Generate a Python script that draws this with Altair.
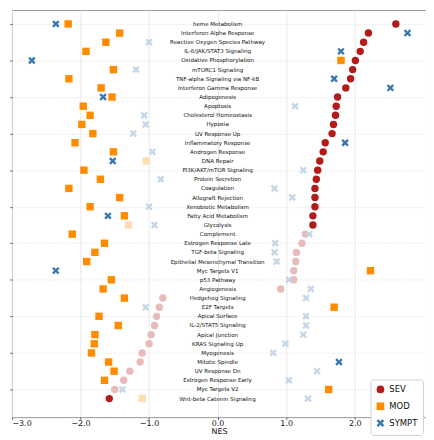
import altair as alt
import pandas as pd

pathways = [
    "heme Metabolism", "Interferon Alpha Response", "Reactive Oxygen Species Pathway",
    "IL-6/JAK/STAT3 Signaling", "Oxidative Phosphorylation", "mTORC1 Signaling",
    "TNF-alpha Signaling via NF-kB", "Interferon Gamma Response", "Adipogenesis",
    "Apoptosis", "Cholesterol Homeostasis", "Hypoxia", "UV Response Up",
    "Inflammatory Response", "Androgen Response", "DNA Repair",
    "PI3K/AKT/mTOR  Signaling", "Protein Secretion", "Coagulation",
    "Allograft Rejection", "Xenobiotic Metabolism", "Fatty Acid Metabolism",
    "Glycolysis", "Complement", "Estrogen Response Late", "TGF-beta Signaling",
    "Epithelial Mesenchymal Transition", "Myc Targets V1", "p53 Pathway",
    "Angiogenesis", "Hedgehog Signaling", "E2F Targets", "Apical Surface",
    "IL-2/STAT5 Signaling", "Apical Junction", "KRAS Signaling Up", "Myogenesis",
    "Mitotic Spindle", "UV Response Dn", "Estrogen Response Early",
    "Myc Targets V2", "Wnt-beta Catenin Signaling",
]

sev_nes = [2.60, 2.20, 2.13, 2.08, 2.01, 1.97, 1.94, 1.87, 1.75, 1.73, 1.72, 1.69,
           1.67, 1.57, 1.54, 1.49, 1.46, 1.44, 1.42, 1.42, 1.42, 1.39, 1.39, 1.28,
           1.23, 1.15, 1.14, 1.11, 1.11, 0.92, -0.80, -0.85, -0.89, -0.92, -0.97,
           -1.00, -1.10, -1.13, -1.28, -1.37, -1.50, -1.58]
sev_sig = [True] * 23 + [False] * 18 + [True]

mod_nes = [-2.18, -1.43, -1.63, -1.92, 1.80, -1.52, -2.17, -1.70, -1.54, -1.96,
           -1.86, -1.98, -1.82, -2.08, -1.52, -1.04, -1.95, -1.71, -2.17, -1.43,
           -1.86, -1.36, -1.30, -2.12, -1.65, -1.79, -1.91, 2.23, -1.55, -1.67,
           -1.36, 1.70, -1.73, -1.45, -1.79, -1.80, -1.84, -1.59, -1.51, -1.65,
           1.62, -1.10]
mod_sig = [True] * 42
for i in (15, 22, 41):
    mod_sig[i] = False

sympt_nes = [-2.36, 2.77, -1.00, 1.80, -2.71, -1.19, 1.70, 2.52, -1.67, 1.13,
             -1.07, -1.05, -1.23, 1.86, -0.95, -1.53, 1.25, -0.83, 0.83, 1.09,
             -1.00, -1.60, -0.92, 1.34, 0.84, 0.83, 0.86, -2.36, 1.04, 1.36,
             1.29, -1.05, 1.29, 1.29, 1.25, 0.99, 0.81, 1.77, 1.45, 1.04,
             -1.39, 1.32]
sympt_sig = [True, True, False, True, True, False, True, True, True, False,
             False, False, False, True, False, True, False, False, False, False,
             False, True, False, False, False, False, False, True, False, False,
             False, False, False, False, False, False, False, True, False, False,
             False, False]

groups = ["SEV", "MOD", "SYMPT"]
colors = ["#b31b1b", "#ff8c00", "#3a76b0"]
light_colors = ["#e8bbbb", "#ffdcb3", "#c4d6e7"]
x_path = ("M-1,-0.55L-0.55,-1L0,-0.45L0.55,-1L1,-0.55L0.45,0L1,0.55L0.55,1"
          "L0,0.45L-0.55,1L-1,0.55L-0.45,0Z")
shapes = ["circle", "square", x_path]
x_ticks = [-3.0, -2.5, -2.0, -1.5, -1.0, -0.5, 0.0, 0.5, 1.0, 1.5, 2.0, 2.5]

rows = []
for name, vals, sigs in (("SEV", sev_nes, sev_sig), ("MOD", mod_nes, mod_sig),
                         ("SYMPT", sympt_nes, sympt_sig)):
    for i, (v, s) in enumerate(zip(vals, sigs)):
        rows.append({"row": i + 1, "pathway": pathways[i], "group": name,
                     "NES": v, "sig": "yes" if s else "no"})
df = pd.DataFrame(rows)
labels = pd.DataFrame({"row": list(range(1, len(pathways) + 1)), "pathway": pathways})

yscale = alt.Scale(domain=[-0.52, 44.03], reverse=True, nice=False, zero=False)
xscale = alt.Scale(domain=[-3.0, 3.04], nice=False, zero=False)

x_enc = alt.X("NES:Q", scale=xscale, title="NES",
              axis=alt.Axis(values=x_ticks, format=".1f", grid=True, gridColor="#e3e3e3",
                            gridWidth=0.8, tickSize=2, tickColor="#444", domain=False,
                            labelFontSize=8, labelFont="DejaVu Sans", labelColor="#111",
                            labelPadding=0.5, titleFontSize=8, titleFont="DejaVu Sans",
                            titleFontWeight="normal", titleColor="#111", titlePadding=0))
y_enc = alt.Y("row:Q", scale=yscale, title=None,
              axis=alt.Axis(values=list(range(1, len(pathways) + 1)), labels=False,
                            grid=True, gridColor="#e8e8e8", gridWidth=0.8,
                            gridDash=[2, 1], tickSize=2, tickColor="#444", domain=False))

legend = alt.Legend(title=None, orient="none", legendX=362, legendY=373,
                    fillColor="white", strokeColor="#d0d0d0", cornerRadius=3,
                    padding=5, labelFontSize=8.5, labelFont="DejaVu Sans",
                    labelColor="#111", symbolSize=60, rowPadding=3, symbolOpacity=1)

weak = alt.Chart(df).transform_filter(alt.datum.sig == "no").mark_point(
    filled=True, size=56, strokeWidth=0, opacity=1).encode(
    x=x_enc, y=y_enc,
    color=alt.Color("group:N", scale=alt.Scale(domain=groups, range=light_colors),
                    legend=None),
    shape=alt.Shape("group:N", scale=alt.Scale(domain=groups, range=shapes),
                    legend=None),
)

strong = alt.Chart(df).transform_filter(alt.datum.sig == "yes").mark_point(
    filled=True, size=56, strokeWidth=0, opacity=1).encode(
    x=x_enc, y=y_enc,
    color=alt.Color("group:N", scale=alt.Scale(domain=groups, range=colors),
                    legend=legend),
    shape=alt.Shape("group:N", scale=alt.Scale(domain=groups, range=shapes),
                    legend=legend),
)

text = alt.Chart(labels).mark_text(fontSize=5.6, font="DejaVu Sans", color="#111",
                                   align="center", baseline="middle").encode(
    x=alt.datum(0.0),
    y=alt.Y("row:Q", scale=yscale),
    text="pathway:N",
)

chart = alt.layer(text, weak, strong).resolve_scale(
    color="independent", shape="independent"
).properties(
    width=418, height=411,
    autosize=alt.AutoSizeParams(type="none"),
    padding={"left": 4, "top": 0, "right": 0, "bottom": 20},
).configure_view(stroke="#999", strokeWidth=1)

chart.save("out.html", embed_options={"renderer": "svg", "actions": False})
